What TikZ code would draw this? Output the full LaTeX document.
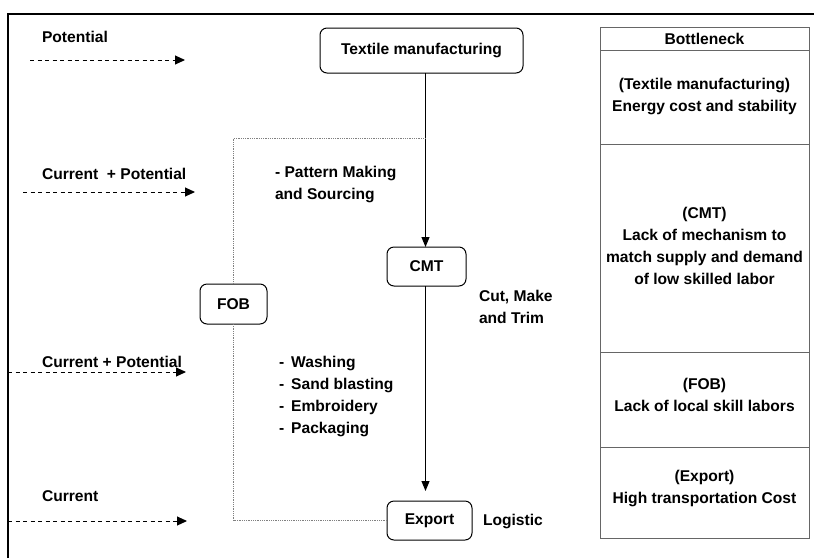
\documentclass[tikz,border=0pt]{standalone}
\usepackage{fontspec}
\setmainfont{Liberation Sans}
\usetikzlibrary{arrows.meta}
\begin{document}
\begin{tikzpicture}[x=1pt,y=-1pt,
  txt/.style={font=\bfseries\fontsize{15.6}{22}\selectfont, inner sep=0pt, outer sep=0pt},
  stage/.style={draw, rounded corners=7pt, line width=1pt, txt},
  flow/.style={line width=1pt, -{Triangle[length=10pt,width=8pt]}},
  link/.style={densely dotted, gray, line width=0.8pt},
  legend/.style={dash pattern=on 4pt off 3.5pt, line width=1pt, -{Triangle[length=10pt,width=9pt]}},
  cell/.style={draw=gray!80!black, line width=1pt}]
\useasboundingbox (0,0) rectangle (814,558);

% frame edges
\draw[line width=1.3pt] (8,558) -- (8,14) -- (814,14);

% value-chain stages
\node[stage, minimum width=203pt, minimum height=45pt] (tm) at (421.5,50.5) {Textile manufacturing};
\node[stage, minimum width=79pt, minimum height=39pt] (cmt) at (426.5,266.5) {CMT};
\node[stage, minimum width=67pt, minimum height=40pt] (fob) at (233.5,304) {FOB};
\node[stage, minimum width=85pt, minimum height=39pt] (exp) at (429.5,520.5) {Export};

% main flow
\coordinate (sp) at (425.5,138);
\draw[flow] (tm.south -| sp) -- (sp) -- (cmt.north -| sp);
\draw[flow, shorten >=10pt] (cmt.south -| sp) -- (exp.north -| sp);

% FOB branch
\draw[link] (sp) -| (fob.north);
\draw[link] (fob.south) |- (exp.west);

% activity notes
\node[txt, anchor=west, align=left] (pm) at (275,184) {- Pattern Making\\and Sourcing};
\node[txt, anchor=west, align=left] (cmk) at (479,306.5) {Cut, Make\\and Trim};
\node[txt, anchor=west] (ops) at (279,396) {\begin{tabular}{@{}l@{\hspace{7pt}}l@{}}
-&Washing\\ -&Sand blasting\\ -&Embroidery\\ -&Packaging\end{tabular}};
\node[txt, anchor=west] (lg) at (483,521) {Logistic};

% legend arrows
\node[txt, anchor=west] (l1) at (42,37) {Potential};
\coordinate (a1s) at (30,60); \coordinate (a1e) at (185,60);
\draw[legend] (a1s) -- (a1e);
\node[txt, anchor=west] (l2) at (42,174) {Current\ \ + Potential};
\coordinate (a2s) at (23,192); \coordinate (a2e) at (195,192);
\draw[legend] (a2s) -- (a2e);
\node[txt, anchor=west] (l3) at (42,362) {Current + Potential};
\coordinate (a3s) at (8,372); \coordinate (a3e) at (186,372);
\draw[legend] (a3s) -- (a3e);
\node[txt, anchor=west] (l4) at (42,496) {Current};
\coordinate (a4s) at (8,521); \coordinate (a4e) at (187,521);
\draw[legend] (a4s) -- (a4e);

% bottleneck table
\draw[cell] (600,27) rectangle (809,538);
\foreach \yy in {50,144,352,447} \draw[cell] (600,\yy) -- (809,\yy);
\node[txt] (bh) at (704.5,38.5) {Bottleneck};
\node[txt, align=center] (b1) at (704.5,96) {(Textile manufacturing)\\Energy cost and stability};
\node[txt, align=center] (b2) at (704.5,246) {(CMT)\\Lack of mechanism to\\match supply and demand\\of low skilled labor};
\node[txt, align=center] (b3) at (704.5,394.5) {(FOB)\\Lack of local skill labors};
\node[txt, align=center] (b4) at (704.5,488.5) {(Export)\\High transportation Cost};
\end{tikzpicture}
\end{document}
